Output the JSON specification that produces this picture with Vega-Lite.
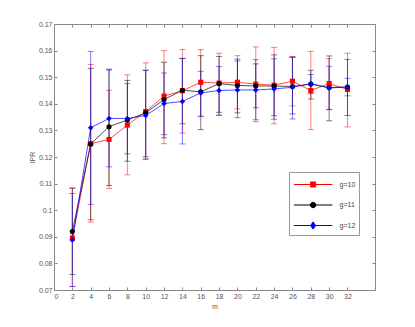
{
  "$schema": "https://vega.github.io/schema/vega-lite/v6.json",
  "width": 321,
  "height": 266,
  "autosize": {"type": "none"},
  "padding": {"left": 54, "top": 24, "right": 40, "bottom": 37},
  "background": "white",
  "config": {
    "view": {"stroke": null},
    "axis": {
      "grid": false,
      "labelFont": "Liberation Sans",
      "titleFont": "Liberation Sans",
      "labelFontSize": 7,
      "titleFontSize": 7,
      "titleFontWeight": "normal",
      "labelColor": "#555555",
      "titleColor": "#555555",
      "domainColor": "#8a8a8a",
      "tickColor": "#8a8a8a",
      "domainWidth": 1,
      "tickWidth": 1,
      "tickSize": -3
    },
    "legend": {
      "title": null,
      "orient": "none",
      "legendX": 235,
      "legendY": 148,
      "padding": 3,
      "strokeColor": "#999999",
      "fillColor": "white",
      "cornerRadius": 0,
      "symbolSize": 324,
      "symbolOffset": 11.6,
      "symbolOpacity": 1,
      "symbolStrokeWidth": 1,
      "labelOffset": 17,
      "rowPadding": 5.5,
      "labelFont": "Liberation Sans",
      "labelFontSize": 7,
      "labelColor": "#444444"
    }
  },
  "data": {
    "values": [
      {"g": "g=10", "m": 2, "ipr": 0.0895, "lo": 0.0713, "hi": 0.1083},
      {"g": "g=10", "m": 4, "ipr": 0.1250, "lo": 0.0955, "hi": 0.1548},
      {"g": "g=10", "m": 6, "ipr": 0.1266, "lo": 0.1082, "hi": 0.1451},
      {"g": "g=10", "m": 8, "ipr": 0.1320, "lo": 0.1133, "hi": 0.1509},
      {"g": "g=10", "m": 10, "ipr": 0.1371, "lo": 0.1192, "hi": 0.1554},
      {"g": "g=10", "m": 12, "ipr": 0.1429, "lo": 0.1250, "hi": 0.1600},
      {"g": "g=10", "m": 14, "ipr": 0.1449, "lo": 0.1290, "hi": 0.1604},
      {"g": "g=10", "m": 16, "ipr": 0.1481, "lo": 0.1353, "hi": 0.1604},
      {"g": "g=10", "m": 18, "ipr": 0.1478, "lo": 0.1357, "hi": 0.1590},
      {"g": "g=10", "m": 20, "ipr": 0.1481, "lo": 0.1381, "hi": 0.1581},
      {"g": "g=10", "m": 22, "ipr": 0.1474, "lo": 0.1333, "hi": 0.1614},
      {"g": "g=10", "m": 24, "ipr": 0.1470, "lo": 0.1325, "hi": 0.1612},
      {"g": "g=10", "m": 26, "ipr": 0.1485, "lo": 0.1392, "hi": 0.1578},
      {"g": "g=10", "m": 28, "ipr": 0.1450, "lo": 0.1303, "hi": 0.1597},
      {"g": "g=10", "m": 30, "ipr": 0.1476, "lo": 0.1378, "hi": 0.1570},
      {"g": "g=10", "m": 32, "ipr": 0.1454, "lo": 0.1313, "hi": 0.1590},
      {"g": "g=11", "m": 2, "ipr": 0.0920, "lo": 0.0758, "hi": 0.1083},
      {"g": "g=11", "m": 4, "ipr": 0.1249, "lo": 0.0964, "hi": 0.1533},
      {"g": "g=11", "m": 6, "ipr": 0.1314, "lo": 0.1093, "hi": 0.1530},
      {"g": "g=11", "m": 8, "ipr": 0.1339, "lo": 0.1184, "hi": 0.1488},
      {"g": "g=11", "m": 10, "ipr": 0.1366, "lo": 0.1201, "hi": 0.1526},
      {"g": "g=11", "m": 12, "ipr": 0.1416, "lo": 0.1272, "hi": 0.1556},
      {"g": "g=11", "m": 14, "ipr": 0.1451, "lo": 0.1325, "hi": 0.1571},
      {"g": "g=11", "m": 16, "ipr": 0.1445, "lo": 0.1303, "hi": 0.1581},
      {"g": "g=11", "m": 18, "ipr": 0.1476, "lo": 0.1368, "hi": 0.1578},
      {"g": "g=11", "m": 20, "ipr": 0.1469, "lo": 0.1366, "hi": 0.1568},
      {"g": "g=11", "m": 22, "ipr": 0.1467, "lo": 0.1385, "hi": 0.1550},
      {"g": "g=11", "m": 24, "ipr": 0.1467, "lo": 0.1355, "hi": 0.1584},
      {"g": "g=11", "m": 26, "ipr": 0.1465, "lo": 0.1362, "hi": 0.1575},
      {"g": "g=11", "m": 28, "ipr": 0.1474, "lo": 0.1418, "hi": 0.1526},
      {"g": "g=11", "m": 30, "ipr": 0.1461, "lo": 0.1336, "hi": 0.1580},
      {"g": "g=11", "m": 32, "ipr": 0.1463, "lo": 0.1356, "hi": 0.1567},
      {"g": "g=12", "m": 2, "ipr": 0.0888, "lo": 0.0713, "hi": 0.1063},
      {"g": "g=12", "m": 4, "ipr": 0.1310, "lo": 0.1022, "hi": 0.1597},
      {"g": "g=12", "m": 6, "ipr": 0.1345, "lo": 0.1163, "hi": 0.1527},
      {"g": "g=12", "m": 8, "ipr": 0.1345, "lo": 0.1212, "hi": 0.1476},
      {"g": "g=12", "m": 10, "ipr": 0.1356, "lo": 0.1192, "hi": 0.1526},
      {"g": "g=12", "m": 12, "ipr": 0.1401, "lo": 0.1284, "hi": 0.1516},
      {"g": "g=12", "m": 14, "ipr": 0.1409, "lo": 0.1249, "hi": 0.1570},
      {"g": "g=12", "m": 16, "ipr": 0.1441, "lo": 0.1353, "hi": 0.1522},
      {"g": "g=12", "m": 18, "ipr": 0.1450, "lo": 0.1357, "hi": 0.1540},
      {"g": "g=12", "m": 20, "ipr": 0.1452, "lo": 0.1348, "hi": 0.1561},
      {"g": "g=12", "m": 22, "ipr": 0.1452, "lo": 0.1340, "hi": 0.1566},
      {"g": "g=12", "m": 24, "ipr": 0.1456, "lo": 0.1342, "hi": 0.1569},
      {"g": "g=12", "m": 26, "ipr": 0.1462, "lo": 0.1343, "hi": 0.1575},
      {"g": "g=12", "m": 28, "ipr": 0.1476, "lo": 0.1438, "hi": 0.1510},
      {"g": "g=12", "m": 30, "ipr": 0.1459, "lo": 0.1379, "hi": 0.1541},
      {"g": "g=12", "m": 32, "ipr": 0.1464, "lo": 0.1430, "hi": 0.1496}
    ]
  },
  "resolve": {"axis": {"x": "independent", "y": "independent"}},
  "layer": [
    {
      "mark": {
        "type": "errorbar",
        "ticks": {"size": 6, "opacity": 0.5},
        "rule": {"opacity": 0.5, "strokeWidth": 1}
      },
      "encoding": {
        "x": {
          "field": "m", "type": "quantitative",
          "scale": {"domain": [0, 35], "nice": false, "zero": false},
          "axis": {"orient": "top", "labels": false, "title": null, "values": [0,2,4,6,8,10,12,14,16,18,20,22,24,26,28,30,32]}
        },
        "y": {
          "field": "lo", "type": "quantitative",
          "scale": {"domain": [0.07, 0.17], "nice": false, "zero": false},
          "axis": {"orient": "right", "labels": false, "title": null, "values": [0.07,0.08,0.09,0.1,0.11,0.12,0.13,0.14,0.15,0.16,0.17]}
        },
        "y2": {"field": "hi"},
        "color": {
          "field": "g", "type": "nominal",
          "scale": {"range": ["#ff0000", "#000000", "#0000ff"]},
          "legend": null
        }
      }
    },
    {
      "mark": {"type": "line", "strokeWidth": 1, "opacity": 0.7},
      "encoding": {
        "x": {
          "field": "m", "type": "quantitative",
          "axis": {"orient": "bottom", "title": "m", "labelPadding": 5, "titlePadding": 3, "values": [0,2,4,6,8,10,12,14,16,18,20,22,24,26,28,30,32]}
        },
        "y": {
          "field": "ipr", "type": "quantitative",
          "axis": {"orient": "left", "title": "IPR", "format": "~g", "labelPadding": 5, "titlePadding": 3, "values": [0.07,0.08,0.09,0.1,0.11,0.12,0.13,0.14,0.15,0.16,0.17]}
        },
        "color": {"field": "g", "type": "nominal", "legend": null}
      }
    },
    {
      "transform": [{"filter": "datum.g === 'g=10'"}],
      "mark": {"type": "point", "shape": "square", "filled": true, "size": 26, "opacity": 1, "color": "#ff0000"},
      "encoding": {
        "x": {"field": "m", "type": "quantitative", "axis": null},
        "y": {"field": "ipr", "type": "quantitative", "axis": null}
      }
    },
    {
      "transform": [{"filter": "datum.g === 'g=11'"}],
      "mark": {"type": "point", "shape": "circle", "filled": true, "size": 26, "opacity": 1, "color": "#000000"},
      "encoding": {
        "x": {"field": "m", "type": "quantitative", "axis": null},
        "y": {"field": "ipr", "type": "quantitative", "axis": null}
      }
    },
    {
      "transform": [{"filter": "datum.g === 'g=12'"}],
      "mark": {"type": "point", "shape": "diamond", "filled": true, "size": 30, "opacity": 1, "color": "#0000ff"},
      "encoding": {
        "x": {"field": "m", "type": "quantitative", "axis": null},
        "y": {"field": "ipr", "type": "quantitative", "axis": null}
      }
    },
    {
      "mark": {"type": "point", "filled": true, "opacity": 0, "strokeWidth": 1},
      "encoding": {
        "x": {"field": "m", "type": "quantitative", "axis": null},
        "y": {"field": "ipr", "type": "quantitative", "axis": null},
        "fill": {
          "field": "g", "type": "nominal",
          "scale": {"domain": ["g=10", "g=11", "g=12"], "range": ["#ff0000", "#000000", "#0000ff"]},
          "legend": {"labelExpr": "datum.label + '           '"}
        },
        "stroke": {
          "field": "g", "type": "nominal",
          "scale": {"domain": ["g=10", "g=11", "g=12"], "range": ["#ff0000", "#000000", "#0000ff"]},
          "legend": {"labelExpr": "datum.label + '           '"}
        },
        "shape": {
          "field": "g", "type": "nominal",
          "scale": {
            "domain": ["g=10", "g=11", "g=12"],
            "range": [
              "M-2.14,0H2.14M-0.28,-0.28H0.28V0.28H-0.28Z",
              "M-2.14,0H2.14M0.3,0A0.3,0.3,0,1,1,-0.3,0A0.3,0.3,0,1,1,0.3,0Z",
              "M-2.14,0H2.14M0,-0.4L0.28,0L0,0.4L-0.28,0Z"
            ]
          },
          "legend": {"labelExpr": "datum.label + '           '"}
        }
      }
    }
  ]
}
